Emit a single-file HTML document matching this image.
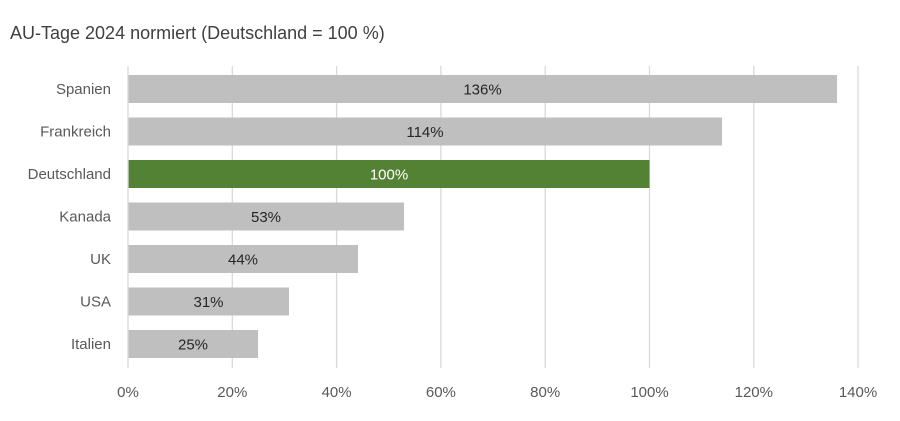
<!DOCTYPE html><html><head><style>body{margin:0;background:#fff}svg text{font-family:"Liberation Sans",sans-serif}</style></head><body>
<svg width="900" height="416" xmlns="http://www.w3.org/2000/svg">
<text x="10" y="39" font-size="18" fill="#404040">AU-Tage 2024 normiert (Deutschland = 100 %)</text>
<g stroke="#d9d9d9" stroke-width="1.3">
<line x1="232.3" y1="66" x2="232.3" y2="368"/><line x1="336.6" y1="66" x2="336.6" y2="368"/><line x1="440.9" y1="66" x2="440.9" y2="368"/><line x1="545.2" y1="66" x2="545.2" y2="368"/><line x1="649.5" y1="66" x2="649.5" y2="368"/><line x1="753.8" y1="66" x2="753.8" y2="368"/><line x1="858" y1="66" x2="858" y2="368"/>
</g>
<g fill="#bfbfbf">
<rect x="128" y="75" width="709" height="28"/>
<rect x="128" y="117.5" width="594" height="28"/>
<rect x="128" y="202.5" width="276" height="28"/>
<rect x="128" y="245" width="230" height="28"/>
<rect x="128" y="287.5" width="161" height="28"/>
<rect x="128" y="330" width="130" height="28"/>
</g>
<rect x="128" y="160" width="521.5" height="28" fill="#548235"/>
<line x1="128" y1="66" x2="128" y2="368" stroke="#d9d9d9" stroke-width="1.3"/>
<g font-size="15" text-anchor="end" fill="#595959">
<text x="111" y="94">Spanien</text><text x="111" y="136.5">Frankreich</text><text x="111" y="179">Deutschland</text><text x="111" y="221.5">Kanada</text><text x="111" y="264">UK</text><text x="111" y="306.5">USA</text><text x="111" y="349">Italien</text>
</g>
<g font-size="15" text-anchor="middle" fill="#262626">
<text x="482.5" y="94.5">136%</text><text x="425" y="137">114%</text><text x="389" y="179.5" fill="#fff">100%</text><text x="266" y="222">53%</text><text x="243" y="264.5">44%</text><text x="208.5" y="307">31%</text><text x="193" y="349.5">25%</text>
</g>
<g font-size="15" text-anchor="middle" fill="#595959">
<text x="128" y="397">0%</text><text x="232.3" y="397">20%</text><text x="336.6" y="397">40%</text><text x="440.9" y="397">60%</text><text x="545.2" y="397">80%</text><text x="649.5" y="397">100%</text><text x="753.8" y="397">120%</text><text x="858" y="397">140%</text>
</g>
</svg></body></html>
